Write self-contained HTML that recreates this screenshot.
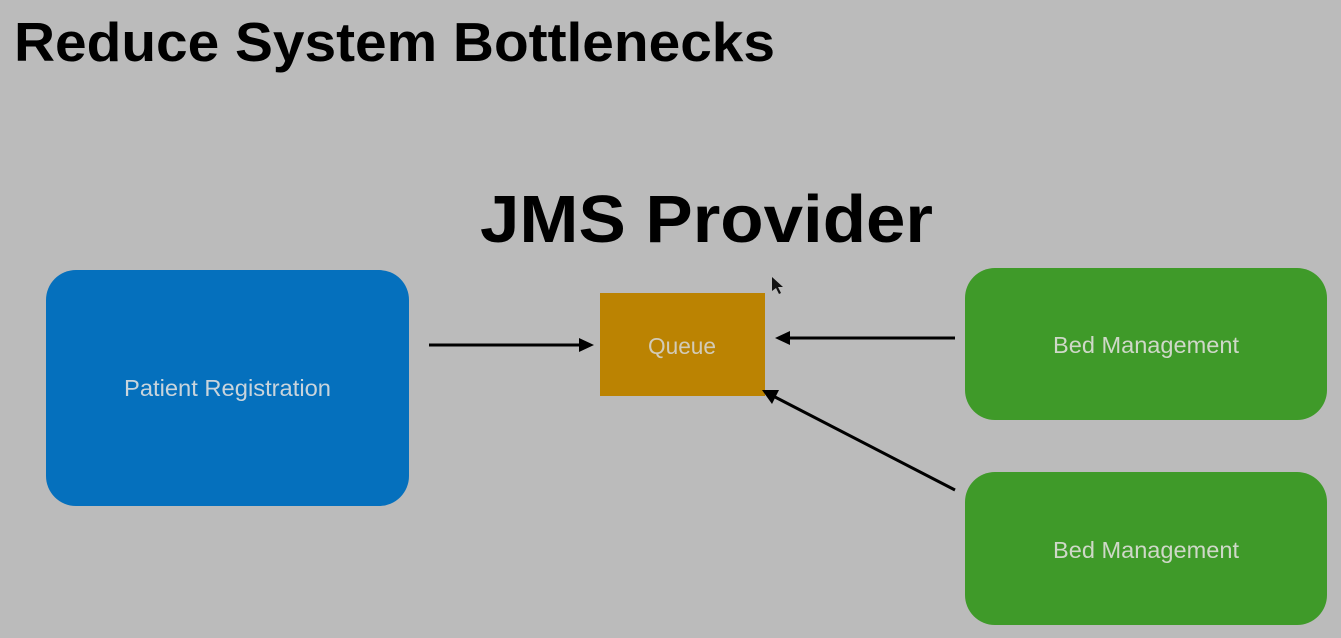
<!DOCTYPE html>
<html><head><style>html,body{margin:0;padding:0;background:#bbbbbb;}svg{display:block}</style></head>
<body>
<svg width="1341" height="638" viewBox="0 0 1341 638" xmlns="http://www.w3.org/2000/svg">
<rect width="1341" height="638" fill="#bbbbbb"/>
<text x="14" y="61" font-family="Liberation Sans, sans-serif" font-weight="bold" font-size="55" textLength="761" lengthAdjust="spacingAndGlyphs" fill="#000">Reduce System Bottlenecks</text>
<text x="480" y="242" font-family="Liberation Sans, sans-serif" font-weight="bold" font-size="67" textLength="453" lengthAdjust="spacingAndGlyphs" fill="#000">JMS Provider</text>
<rect x="46" y="270" width="363" height="236" rx="30" fill="#0570bd"/>
<text x="124" y="396" font-family="Liberation Sans, sans-serif" font-size="23" textLength="207" lengthAdjust="spacingAndGlyphs" fill="#c9d4dc">Patient Registration</text>
<rect x="600" y="293" width="165" height="103" fill="#bb8302"/>
<text x="648" y="354" font-family="Liberation Sans, sans-serif" font-size="23" textLength="68" lengthAdjust="spacingAndGlyphs" fill="#d2cbb8">Queue</text>
<rect x="965" y="268" width="362" height="152" rx="30" fill="#3f9a29"/>
<text x="1053" y="353" font-family="Liberation Sans, sans-serif" font-size="23" textLength="186" lengthAdjust="spacingAndGlyphs" fill="#cfd8c8">Bed Management</text>
<rect x="965" y="472" width="362" height="153" rx="30" fill="#3f9a29"/>
<text x="1053" y="558" font-family="Liberation Sans, sans-serif" font-size="23" textLength="186" lengthAdjust="spacingAndGlyphs" fill="#cfd8c8">Bed Management</text>
<g stroke="#000" stroke-width="3">
<line x1="429" y1="345" x2="580" y2="345"/>
<line x1="955" y1="338" x2="790" y2="338"/>
<line x1="955" y1="490" x2="775" y2="397"/>
</g>
<polygon points="594,345 579,338 579,352" fill="#000"/>
<polygon points="775,338 790,331 790,345" fill="#000"/>
<polygon points="762,390 779,390 772,404" fill="#000"/>
<polygon points="772,277 772,291 776,288 779,294 781,293 778,287 783,287" fill="#111"/>
</svg>
</body></html>
